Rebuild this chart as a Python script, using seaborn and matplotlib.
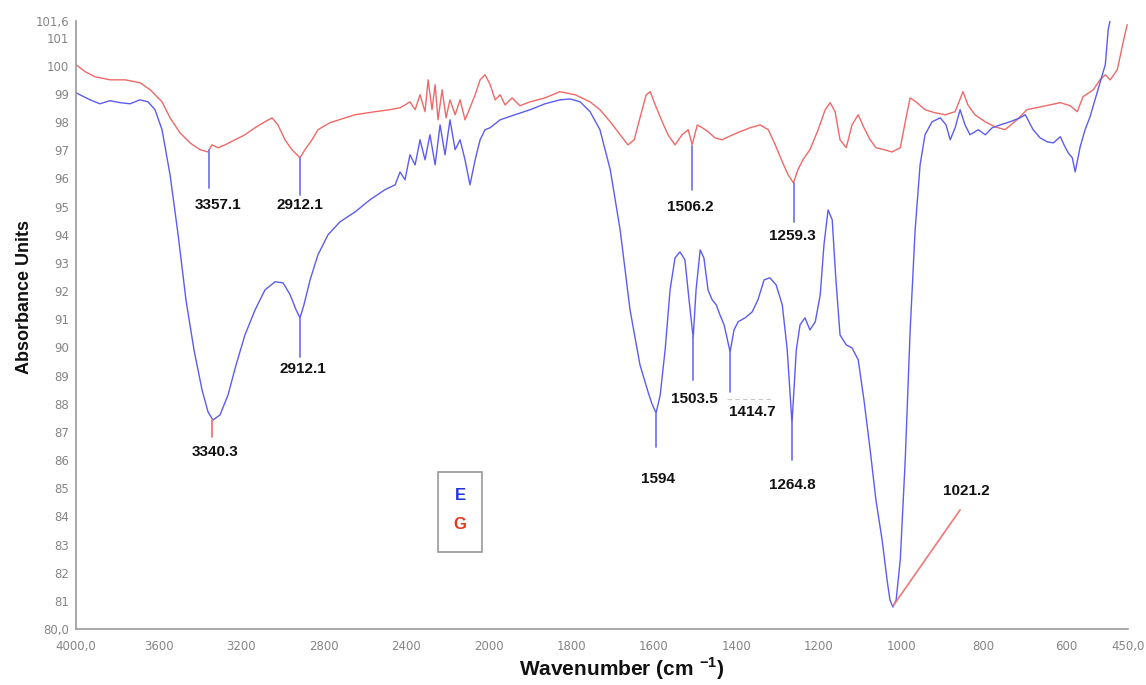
import numpy as np
import pandas as pd
import matplotlib
matplotlib.use("Agg")
import matplotlib.pyplot as plt
import seaborn as sns
from matplotlib.patches import Rectangle

# ---------------- data ----------------
e_wn = [4000, 3932, 3884, 3835, 3787, 3738, 3690, 3651, 3617, 3583, 3544, 3505, 3467, 3428, 3389, 3360,
        3336, 3302, 3263, 3224, 3181, 3132, 3084, 3035, 2996, 2962, 2933, 2914, 2895, 2865, 2827, 2778,
        2720, 2647, 2575, 2502, 2453, 2429, 2405, 2381, 2356, 2332, 2308, 2284, 2259, 2235, 2211, 2187,
        2162, 2138, 2114, 2090, 2065, 2041, 2017, 1996, 1972, 1936, 1899, 1863, 1827, 1802, 1778, 1754,
        1730, 1705, 1681, 1657, 1633, 1613, 1604, 1594, 1584, 1572, 1560, 1548, 1536, 1524, 1514, 1504,
        1497, 1487, 1478, 1468, 1458, 1448, 1439, 1429, 1414.5, 1405, 1395, 1378, 1361, 1347, 1332, 1318,
        1303, 1288, 1276, 1264.5, 1254, 1245, 1233, 1221, 1208, 1196, 1187, 1177, 1167, 1158, 1148, 1133,
        1119, 1104, 1090, 1075, 1061, 1046, 1034, 1027, 1020, 1012, 1002, 990, 978, 966, 954, 942, 925,
        905, 891, 881, 869, 857, 845, 833, 813, 796, 779, 760, 736, 712, 699, 680, 663, 646, 631, 614, 605,
        595, 585, 578, 566, 554, 542, 530, 518, 505, 498, 493]
e_abs = [99.04, 98.79, 98.65, 98.76, 98.69, 98.65, 98.79, 98.72, 98.44, 97.73, 96.13, 94.0, 91.69, 89.91,
         88.49, 87.71, 87.42, 87.6, 88.31, 89.38, 90.44, 91.33, 92.04, 92.33, 92.29, 91.87, 91.33, 91.05,
         91.51, 92.4, 93.29, 94.0, 94.46, 94.81, 95.24, 95.6, 95.77, 96.23, 95.95, 96.84, 96.48, 97.37,
         96.66, 97.55, 96.48, 97.9, 96.84, 98.08, 97.02, 97.37, 96.66, 95.77, 96.66, 97.37, 97.73, 97.8,
         98.08, 98.26, 98.44, 98.65, 98.79, 98.82, 98.72, 98.37, 97.73, 96.31, 94.17, 91.33, 89.38, 88.4,
         88.0, 87.67, 88.3, 89.91, 92.04, 93.18, 93.39, 93.11, 91.69, 90.34, 92.04, 93.46, 93.18, 92.04,
         91.69, 91.51, 91.15, 90.8, 89.84, 90.62, 90.91, 91.05, 91.26, 91.69, 92.4, 92.47, 92.22, 91.51,
         89.91, 87.3, 89.91, 90.8, 91.05, 90.62, 90.91, 91.87, 93.64, 94.88, 94.53, 92.4, 90.44, 90.09,
         89.98, 89.56, 88.13, 86.36, 84.58, 83.16, 81.74, 81.03, 80.78, 81.03, 82.45, 86.0, 90.62, 94.17,
         96.48, 97.55, 98.01, 98.15, 97.9, 97.37, 97.8, 98.44, 97.9, 97.55, 97.73, 97.55, 97.8, 97.9,
         98.01, 98.15, 98.26, 97.73, 97.44, 97.3, 97.26, 97.48, 97.19, 96.91, 96.73, 96.23, 97.12, 97.73,
         98.19, 98.79, 99.4, 100.04, 101.28, 101.63]

g_wn = [4000, 3956, 3908, 3835, 3762, 3690, 3641, 3583, 3544, 3496, 3447, 3399, 3360, 3341, 3312, 3278,
        3229, 3181, 3132, 3084, 3050, 3021, 2987, 2953, 2914, 2890, 2856, 2827, 2768, 2696, 2647, 2550,
        2478, 2429, 2405, 2381, 2356, 2332, 2308, 2293, 2274, 2259, 2245, 2225, 2206, 2187, 2162, 2138,
        2114, 2090, 2065, 2041, 2017, 1996, 1984, 1972, 1960, 1943, 1924, 1899, 1863, 1827, 1790, 1754,
        1730, 1705, 1681, 1662, 1647, 1633, 1618, 1608, 1596, 1579, 1565, 1548, 1531, 1516, 1506.5, 1494,
        1482, 1468, 1451, 1434, 1414, 1390, 1366, 1342, 1322, 1305, 1288, 1274, 1261, 1250, 1238, 1221,
        1201, 1184, 1172, 1160, 1148, 1133, 1119, 1104, 1090, 1075, 1061, 1041, 1022, 1002, 988, 978, 964,
        942, 918, 893, 869, 850, 838, 821, 796, 772, 748, 719, 695, 663, 614, 590, 573, 559, 534, 518,
        505, 493, 476, 462, 452]
g_abs = [100.04, 99.79, 99.61, 99.5, 99.5, 99.4, 99.15, 98.72, 98.15, 97.62, 97.26, 97.02, 96.94, 97.19,
         97.09, 97.19, 97.37, 97.55, 97.8, 98.01, 98.15, 97.9, 97.37, 97.02, 96.73, 97.02, 97.37, 97.73,
         97.98, 98.15, 98.26, 98.37, 98.44, 98.51, 98.61, 98.72, 98.44, 98.97, 98.37, 99.5, 98.44, 99.33,
         98.08, 99.15, 98.15, 98.79, 98.26, 98.79, 98.08, 98.51, 98.97, 99.5, 99.68, 99.33, 98.79, 98.97,
         98.61, 98.86, 98.58, 98.72, 98.86, 99.08, 98.97, 98.72, 98.44, 98.01, 97.55, 97.19, 97.37, 98.15,
         98.97, 99.08, 98.61, 98.01, 97.55, 97.19, 97.55, 97.73, 97.19, 97.9, 97.8, 97.66, 97.44, 97.37,
         97.51, 97.66, 97.8, 97.9, 97.73, 97.19, 96.59, 96.13, 95.84, 96.31, 96.66, 97.02, 97.73, 98.44,
         98.69, 98.37, 97.37, 97.09, 97.9, 98.26, 97.8, 97.37, 97.09, 97.02, 96.94, 97.09, 98.15, 98.86,
         98.72, 98.44, 98.33, 98.26, 98.37, 99.08, 98.61, 98.26, 98.01, 97.83, 97.73, 98.08, 98.44, 98.54,
         98.69, 98.58, 98.37, 98.9, 99.15, 99.5, 99.68, 99.5, 99.86, 100.82, 101.46]

# peak annotations: (label, line wavenumber, line top, line bottom, text wavenumber, text value, series)
peak_labels = ["3357.1", "2912.1", "1506.2", "1259.3", "3340.3", "2912.1", "1594", "1503.5", "1414.7", "1264.8"]
peak_wn = [3357.1, 2912.1, 1506.2, 1259.3, 3340.3, 2912.1, 1594, 1503.5, 1414.7, 1264.8]
peak_top = [97.02, 96.73, 97.16, 95.84, 87.42, 91.05, 87.67, 90.44, 89.84, 87.32]
peak_bot = [95.67, 95.42, 95.6, 94.46, 86.82, 89.66, 86.47, 88.85, 88.42, 86.0]
text_wn = [3312, 2914, 1511, 1264, 3326, 2899, 1589, 1502, 1361, 1264]
text_val = [95.06, 95.06, 94.99, 93.96, 86.29, 89.24, 85.33, 88.17, 87.71, 85.12]
line_col = ["blue", "blue", "blue", "blue", "red", "blue", "blue", "blue", "blue", "blue"]

x_ticks = [4000, 3600, 3200, 2800, 2400, 2000, 1800, 1600, 1400, 1200, 1000, 800, 600, 450]
x_tick_labels = ["4000,0", "3600", "3200", "2800", "2400", "2000", "1800", "1600", "1400", "1200",
                 "1000", "800", "600", "450,0"]
y_ticks = list(range(80, 102)) + [101.6]
y_tick_labels = ["80,0"] + [str(v) for v in range(81, 102)] + ["101,6"]

# ---------------- plot ----------------
sns.set_style("white")
plt.rcParams['font.family'] = ['Liberation Sans', 'DejaVu Sans']
plt.rcParams['mathtext.fontset'] = 'custom'
plt.rcParams['mathtext.bf'] = 'Liberation Sans:bold'
plt.rcParams['mathtext.rm'] = 'Liberation Sans'

fig = plt.figure(figsize=(11.46, 6.85), dpi=100)
ax = fig.add_axes([76 / 1146, 1 - 629 / 685, (1128 - 76) / 1146, (629 - 20.7) / 685])

def fwd(x):
    x = np.asarray(x, dtype=float)
    return np.where(x > 2000, 2000 + (x - 2000) / 2.0, x)

def inv(t):
    t = np.asarray(t, dtype=float)
    return np.where(t > 2000, 2000 + 2.0 * (t - 2000), t)

ax.set_xscale('function', functions=(fwd, inv))

blue = "#5c5cf0"
red = "#f06868"
df_e = pd.DataFrame({"wn": e_wn, "abs": e_abs})
df_g = pd.DataFrame({"wn": g_wn, "abs": g_abs})
sns.lineplot(data=df_g, x="wn", y="abs", sort=False, color=red, lw=1.0, ax=ax, estimator=None)
sns.lineplot(data=df_e, x="wn", y="abs", sort=False, color=blue, lw=1.0, ax=ax, estimator=None)

ax.set_xlim(4000, 450)
ax.set_ylim(80, 101.6)

colmap = {"blue": "#7878f0", "red": "#f07878"}
for lab, w, t, b, tw, tv, c in zip(peak_labels, peak_wn, peak_top, peak_bot, text_wn, text_val, line_col):
    ax.plot([w, w], [t, b], color=colmap[c], lw=1.3)
    ax.text(tw, tv, lab, ha="center", va="center", fontsize=11, fontweight="bold", color="#111111")

# 1021.2 leader line and dashed gray line
ax.plot([1019.4, 857], [80.82, 84.23], color="#f07878", lw=1.2)
ax.text(842, 84.9, "1021.2", ha="center", va="center", fontsize=11, fontweight="bold", color="#111111")
ax.plot([1421, 1313], [88.17, 88.17], color="#c8c8c8", lw=0.8, ls=(0, (4, 3)))

ax.set_xticks(x_ticks)
ax.set_xticklabels(x_tick_labels)
ax.set_yticks(y_ticks)
ax.set_yticklabels(y_tick_labels)
ax.minorticks_off()
for lbl in ax.get_xticklabels() + ax.get_yticklabels():
    lbl.set_family("DejaVu Sans")
    lbl.set_fontsize(8.5)
    lbl.set_color("#858585")
ax.tick_params(axis="both", direction="inout", length=4, width=1, color="#888888", pad=3)
ax.tick_params(axis="x", pad=6)

for s in ["top", "right"]:
    ax.spines[s].set_visible(False)
for s in ["left", "bottom"]:
    ax.spines[s].set_color("#999999")
    ax.spines[s].set_linewidth(1.2)

ax.set_xlabel(r"Wavenumber (cm $^{\mathbf{-1}}$)", fontsize=15, fontweight="bold", color="#111111",
              va="center")
ax.set_ylabel("Absorbance Units", fontsize=13, fontweight="bold", color="#111111", va="center")
ax.xaxis.set_label_coords(0.519, -0.066)
ax.yaxis.set_label_coords(-0.0485, 0.546)

# legend box
ax.add_patch(Rectangle((0.344, 0.1266), 0.042, 0.131, transform=ax.transAxes, fill=False,
                       edgecolor="#9a9a9a", lw=1.2))
ax.text(0.365, 0.219, "E", transform=ax.transAxes, ha="center", va="center", fontsize=12,
        fontweight="bold", color="#2233dd")
ax.text(0.365, 0.171, "G", transform=ax.transAxes, ha="center", va="center", fontsize=12,
        fontweight="bold", color="#e03a1e")

fig.savefig("out.png", dpi=100)
